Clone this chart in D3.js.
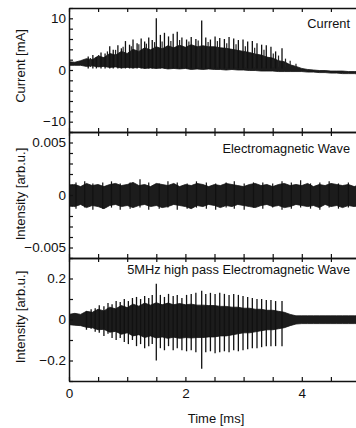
<!DOCTYPE html>
<html><head><meta charset="utf-8">
<script src="https://cdn.jsdelivr.net/npm/d3@7"></script>
<style>
body{margin:0;background:#fff;overflow:hidden}
text{font-family:"Liberation Sans",Arial,Helvetica,sans-serif;fill:#111}
</style>
</head><body>
<svg id="c" width="356" height="428"></svg>
<script>
// ---------------- DATA ----------------
const timeGrid = [0.0,0.1,0.2,0.3,0.4,0.5,0.6,0.7,0.8,0.9,1.0,1.1,1.2,1.3,1.4,1.5,1.6,1.7,1.8,1.9,2.0,2.1,2.2,2.3,2.4,2.5,2.6,2.7,2.8,2.9,3.0,3.1,3.2,3.3,3.4,3.5,3.6,3.7,3.8,3.9,4.0,4.1,4.2,4.3,4.4,4.5,4.6,4.7,4.8,4.9,5.0];

// Panel 1: Current [mA] – dense band envelope
const currentUpper = [1.6,1.5,1.8,2.2,2.0,2.7,2.4,3.2,2.9,3.6,3.2,4.0,3.6,4.3,3.9,4.5,4.1,4.7,4.3,4.8,4.4,4.9,4.5,4.7,4.5,4.5,4.3,4.2,4.0,3.8,3.6,3.4,3.1,2.9,2.5,2.3,1.8,1.6,1.0,0.7,0.3,0.1,0.0,-0.1,-0.1,-0.2,-0.2,-0.2,-0.3,-0.3,-0.3];
const currentLower = [0.9,0.9,0.9,0.7,0.8,0.6,0.7,0.5,0.6,0.4,0.5,0.4,0.5,0.3,0.4,0.3,0.4,0.2,0.3,0.2,0.3,0.1,0.2,0.1,0.2,0.1,0.1,0.0,0.1,0.0,0.0,-0.1,-0.1,-0.2,-0.2,-0.2,-0.3,-0.3,-0.3,-0.3,-0.3,-0.4,-0.4,-0.5,-0.5,-0.6,-0.6,-0.7,-0.7,-0.7,-0.8];
// Panel 1 spikes (time [ms], top [mA])
const currentSpikeT   = [0.33,0.41,0.47,0.55,0.62,0.70,0.76,0.84,0.90,0.97,1.04,1.10,1.17,1.24,1.30,1.37,1.43,1.50,1.57,1.64,1.71,1.79,1.86,1.94,2.02,2.10,2.18,2.28,2.35,2.43,2.51,2.59,2.67,2.75,2.83,2.91,2.99,3.07,3.15,3.23,3.31,3.39,3.47,3.55,3.66];
const currentSpikeTop = [2.6,2.9,2.5,3.4,3.2,4.6,3.9,4.8,4.2,5.6,4.9,5.9,5.2,6.1,5.5,6.3,5.8,10.0,6.8,7.2,6.5,7.0,7.4,6.3,5.9,6.4,6.0,9.6,6.3,5.9,6.5,6.2,6.0,6.4,6.1,5.8,5.9,5.5,5.6,5.2,4.9,4.8,4.5,3.6,4.2];
const currentMinorT   = [0.37,0.51,0.66,0.80,0.93,1.07,1.20,1.33,1.47,1.60,1.75,1.90,2.06,2.22,2.39,2.55,2.71,2.87,3.03,3.19,3.35,3.51,3.60,3.72,3.80,3.90];
const currentMinorTop = [2.3,2.9,3.6,3.9,4.5,4.6,5.0,5.1,5.4,5.5,5.6,5.8,5.5,5.7,5.4,5.6,5.2,5.0,4.6,4.3,3.9,3.2,2.8,2.2,1.8,1.2];

// Panel 2: Electromagnetic Wave – band envelope
const emUpper = [0.0009,0.0010,0.0008,0.0011,0.0009,0.0010,0.0008,0.0010,0.0011,0.0009,0.0010,0.0012,0.0009,0.0010,0.0008,0.0011,0.0010,0.0009,0.0011,0.0008,0.0010,0.0009,0.0011,0.0010,0.0008,0.0010,0.0009,0.0011,0.0010,0.0009,0.0008,0.0010,0.0011,0.0009,0.0010,0.0008,0.0010,0.0011,0.0009,0.0010,0.0009,0.0011,0.0008,0.0010,0.0009,0.0011,0.0010,0.0009,0.0010,0.0008,0.0010];
const emLower = [-0.0010,-0.0011,-0.0009,-0.0012,-0.0010,-0.0011,-0.0013,-0.0010,-0.0009,-0.0011,-0.0010,-0.0012,-0.0010,-0.0009,-0.0011,-0.0010,-0.0012,-0.0011,-0.0009,-0.0010,-0.0011,-0.0013,-0.0010,-0.0011,-0.0009,-0.0010,-0.0012,-0.0010,-0.0011,-0.0009,-0.0010,-0.0011,-0.0012,-0.0010,-0.0009,-0.0011,-0.0010,-0.0012,-0.0011,-0.0009,-0.0010,-0.0011,-0.0010,-0.0012,-0.0009,-0.0011,-0.0010,-0.0012,-0.0010,-0.0011,-0.0010];
const emSpikeT      = [0.12,0.27,0.41,0.58,0.73,0.88,1.05,1.22,1.37,1.55,1.70,1.86,2.03,2.19,2.36,2.52,2.70,2.84,3.01,3.17,3.33,3.50,3.66,3.82,3.98,4.15,4.31,4.47,4.63,4.80,4.95];
const emSpikeTop    = [0.0012,0.0013,0.0011,0.0012,0.0013,0.0011,0.0012,0.0015,0.0012,0.0011,0.0013,0.0012,0.0011,0.0013,0.0012,0.0011,0.0012,0.0013,0.0011,0.0012,0.0012,0.0011,0.0013,0.0012,0.0014,0.0011,0.0012,0.0013,0.0011,0.0012,0.0013];
const emSpikeBottom = [-0.0013,-0.0012,-0.0014,-0.0013,-0.0012,-0.0014,-0.0013,-0.0012,-0.0014,-0.0013,-0.0012,-0.0014,-0.0013,-0.0012,-0.0013,-0.0014,-0.0012,-0.0013,-0.0014,-0.0012,-0.0013,-0.0012,-0.0014,-0.0013,-0.0012,-0.0013,-0.0014,-0.0012,-0.0013,-0.0012,-0.0013];

// Panel 3: 5MHz high pass Electromagnetic Wave – dense band envelope
const hpUpper = [0.025,0.03,0.025,0.04,0.035,0.05,0.042,0.06,0.052,0.068,0.058,0.075,0.065,0.08,0.07,0.082,0.072,0.08,0.072,0.078,0.072,0.075,0.07,0.07,0.068,0.068,0.064,0.064,0.06,0.06,0.055,0.055,0.05,0.05,0.045,0.045,0.04,0.035,0.025,0.018,0.018,0.018,0.018,0.018,0.018,0.018,0.018,0.018,0.018,0.018,0.018];
const hpLower = [-0.025,-0.028,-0.03,-0.038,-0.04,-0.05,-0.048,-0.062,-0.058,-0.072,-0.065,-0.08,-0.074,-0.088,-0.08,-0.09,-0.085,-0.092,-0.086,-0.092,-0.088,-0.09,-0.088,-0.088,-0.085,-0.085,-0.08,-0.08,-0.075,-0.07,-0.065,-0.065,-0.06,-0.055,-0.05,-0.05,-0.045,-0.04,-0.03,-0.022,-0.02,-0.02,-0.02,-0.02,-0.02,-0.02,-0.02,-0.02,-0.02,-0.02,-0.02];
const hpSpikeT      = [0.30,0.38,0.45,0.52,0.60,0.67,0.74,0.81,0.88,0.95,1.02,1.09,1.16,1.23,1.30,1.37,1.43,1.50,1.57,1.64,1.71,1.79,1.86,1.94,2.02,2.10,2.18,2.28,2.35,2.43,2.51,2.59,2.67,2.75,2.83,2.91,2.99,3.07,3.15,3.23,3.31,3.39,3.47,3.55,3.66];
const hpSpikeTop    = [0.04,0.05,0.055,0.07,0.065,0.08,0.075,0.09,0.085,0.10,0.09,0.105,0.11,0.10,0.115,0.105,0.12,0.175,0.12,0.11,0.125,0.115,0.12,0.105,0.12,0.125,0.13,0.14,0.125,0.13,0.125,0.13,0.125,0.12,0.125,0.12,0.115,0.11,0.105,0.10,0.10,0.095,0.095,0.09,0.09];
const hpSpikeBottom = [-0.05,-0.045,-0.06,-0.065,-0.08,-0.07,-0.09,-0.10,-0.09,-0.11,-0.12,-0.10,-0.13,-0.12,-0.14,-0.13,-0.12,-0.20,-0.14,-0.15,-0.13,-0.15,-0.14,-0.15,-0.155,-0.15,-0.16,-0.24,-0.16,-0.155,-0.165,-0.16,-0.155,-0.16,-0.15,-0.155,-0.15,-0.145,-0.14,-0.14,-0.135,-0.13,-0.13,-0.13,-0.13];

const xTickLabels = [0, 2, 4];
const currentTickLabels = [10, 0, -10];
const emTickLabels = [0.005, 0, -0.005];
const hpTickLabels = [0.2, 0, -0.2];

// ---------------- DRAWING ----------------
const svg = d3.select("#c");
const X0 = 69, X1 = 360;
const x = d3.scaleLinear().domain([0, 5]).range([X0, X1]);
const xTicks = d3.range(0, 5.01, 0.5);

const panels = [
  {top: 8,   bottom: 132, domain: [-12, 12], step: 2, labels: currentTickLabels, fmt: d3.format("d"),
   title: "Current [mA]", titleY: 66, name: "Current"},
  {top: 132, bottom: 258, domain: [-0.006, 0.006], step: 0.001, labels: emTickLabels, fmt: d3.format(".3f"),
   title: "Intensity [arb.u.]", titleY: 194, name: "Electromagnetic Wave"},
  {top: 258, bottom: 381, domain: [-0.3, 0.3], step: 0.1, labels: hpTickLabels, fmt: d3.format(".1f"),
   title: "Intensity [arb.u.]", titleY: 317, name: "5MHz high pass Electromagnetic Wave"}
];

const near = (a, b) => Math.abs(a - b) < 1e-9;

panels.forEach((p, i) => {
  p.y = d3.scaleLinear().domain(p.domain).range([p.bottom, p.top]);
  const g = svg.append("g");
  const clipId = "clip" + i;
  svg.append("clipPath").attr("id", clipId).append("rect")
    .attr("x", X0).attr("y", p.top).attr("width", X1 - X0).attr("height", p.bottom - p.top);
  p.plot = g.append("g").attr("clip-path", `url(#${clipId})`);
  p.g = g;
});

// Panel 1 traces
{
  const p = panels[0];
  const area = d3.area().x((d, i) => x(timeGrid[i])).y0((d, i) => p.y(currentLower[i])).y1((d, i) => p.y(currentUpper[i]));
  p.plot.append("path").datum(timeGrid).attr("d", area).attr("fill", "#1c1c1c").attr("stroke", "#111").attr("stroke-width", 0.8);
  p.plot.selectAll("line.minor").data(currentMinorT).join("line")
    .attr("x1", d => x(d)).attr("x2", d => x(d))
    .attr("y1", (d, i) => p.y(currentMinorTop[i])).attr("y2", p.y(0.6))
    .attr("stroke", "#222").attr("stroke-width", 1.2);
  p.plot.selectAll("line.sp").data(currentSpikeT).join("line")
    .attr("x1", d => x(d)).attr("x2", d => x(d))
    .attr("y1", (d, i) => p.y(currentSpikeTop[i])).attr("y2", p.y(0.3))
    .attr("stroke", "#111").attr("stroke-width", 1.3);
}
// Panel 2 traces
{
  const p = panels[1];
  const area = d3.area().x((d, i) => x(timeGrid[i])).y0((d, i) => p.y(emLower[i])).y1((d, i) => p.y(emUpper[i]));
  p.plot.append("path").datum(timeGrid).attr("d", area).attr("fill", "#1c1c1c").attr("stroke", "#111").attr("stroke-width", 0.8);
  p.plot.selectAll("line.sp").data(emSpikeT).join("line")
    .attr("x1", d => x(d)).attr("x2", d => x(d))
    .attr("y1", (d, i) => p.y(emSpikeTop[i])).attr("y2", (d, i) => p.y(emSpikeBottom[i]))
    .attr("stroke", "#111").attr("stroke-width", 1.2);
}
// Panel 3 traces
{
  const p = panels[2];
  const area = d3.area().x((d, i) => x(timeGrid[i])).y0((d, i) => p.y(hpLower[i])).y1((d, i) => p.y(hpUpper[i]));
  p.plot.append("path").datum(timeGrid).attr("d", area).attr("fill", "#1c1c1c").attr("stroke", "#111").attr("stroke-width", 0.8);
  p.plot.selectAll("line.sp").data(hpSpikeT).join("line")
    .attr("x1", d => x(d)).attr("x2", d => x(d))
    .attr("y1", (d, i) => p.y(hpSpikeTop[i])).attr("y2", (d, i) => p.y(hpSpikeBottom[i]))
    .attr("stroke", "#111").attr("stroke-width", 1.3);
}

// Axes & frames
panels.forEach((p, i) => {
  const g = p.g;
  const yTicks = d3.range(p.domain[0], p.domain[1] + p.step / 2, p.step);
  const yAxis = d3.axisLeft(p.y).tickValues(yTicks).tickSizeInner(-4).tickSizeOuter(0).tickPadding(3)
    .tickFormat(v => p.labels.some(l => near(l, v)) ? (near(v, 0) ? "0" : p.fmt(v)) : "");
  const ya = g.append("g").attr("transform", `translate(${X0},0)`).call(yAxis);
  const yaR = g.append("g").attr("transform", `translate(${X1},0)`).call(d3.axisRight(p.y).tickValues(yTicks).tickSizeInner(-4).tickSizeOuter(0).tickFormat(""));
  const top = g.append("g").attr("transform", `translate(0,${p.top})`)
    .call(d3.axisTop(x).tickValues(xTicks).tickSizeInner(-4).tickSizeOuter(0).tickFormat(""));
  const bot = g.append("g").attr("transform", `translate(0,${p.bottom})`)
    .call(d3.axisBottom(x).tickValues(xTicks).tickSizeInner(-4).tickSizeOuter(0).tickPadding(7)
      .tickFormat(v => (i === 2 && xTickLabels.includes(v)) ? d3.format("d")(v) : ""));
  [ya, yaR, top, bot].forEach(a => {
    a.select(".domain").attr("stroke", "#111").attr("stroke-width", 1.5);
    a.selectAll(".tick line").attr("stroke", "#111").attr("stroke-width", 1.2);
    a.selectAll(".tick text").attr("font-size", 13.5).attr("fill", "#111")
      .attr("font-family", '"Liberation Sans",Arial,sans-serif');
  });
  // y-axis title
  g.append("text").attr("transform", `translate(25,${p.titleY}) rotate(-90)`)
    .attr("text-anchor", "middle").attr("font-size", 13).text(p.title);
  // panel name
  g.append("text").attr("x", 350).attr("y", i === 0 ? 28 : (i === 1 ? 152.5 : 273.5))
    .attr("text-anchor", "end").attr("font-size", 12.8).text(p.name);
});

svg.append("text").attr("x", 216).attr("y", 423).attr("text-anchor", "middle")
  .attr("font-size", 13).text("Time [ms]");
</script>
</body></html>
